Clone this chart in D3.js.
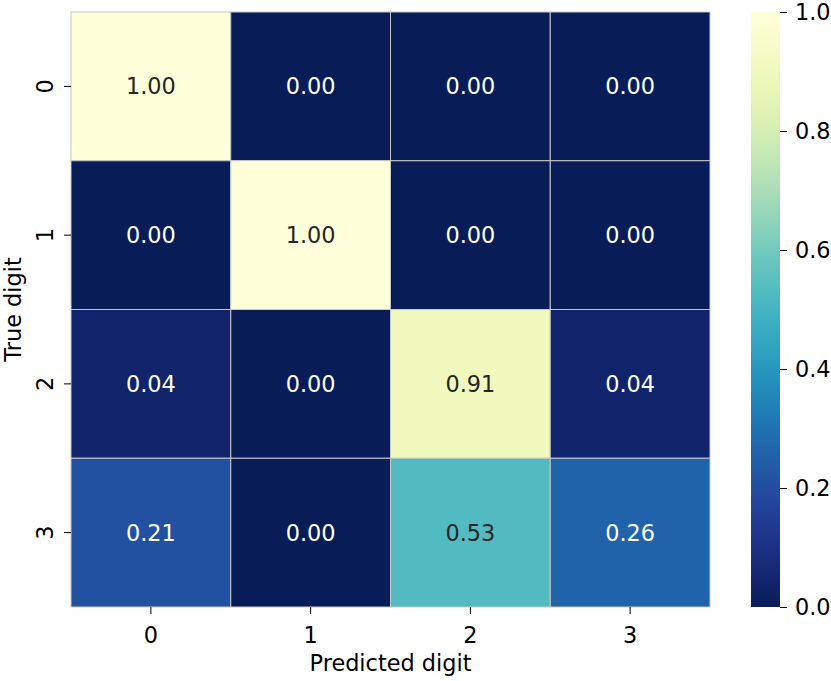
<!DOCTYPE html>
<html>
<head>
<meta charset="utf-8">
<script src="https://cdn.jsdelivr.net/npm/d3@7"></script>
<style>
  body { margin: 0; background: #fff; }
  text { font-family: "DejaVu Sans", sans-serif; }
</style>
</head>
<body>
<div id="chart"></div>
<script>
// confusion matrix data (row = true digit, column = predicted digit)
const trueDigits = ["0", "1", "2", "3"];
const predDigits = ["0", "1", "2", "3"];
const row0 = [1.00, 0.00, 0.00, 0.00];
const row1 = [0.00, 1.00, 0.00, 0.00];
const row2 = [0.04, 0.00, 0.91, 0.04];
const row3 = [0.21, 0.00, 0.53, 0.26];
const rows = [row0, row1, row2, row3];
const colorbarTicks = [0, 0.2, 0.4, 0.6, 0.8, 1.0];

const width = 831;
const height = 681;
const fontSize = 22.4;

// heatmap area
const plotLeft = 71, plotRight = 710, plotTop = 12, plotBottom = 607;
// colorbar area
const cbLeft = 751, cbRight = 780;

const svg = d3.select("#chart")
  .append("svg")
  .attr("width", width)
  .attr("height", height);

const xScale = d3.scaleBand().domain(predDigits).range([plotLeft, plotRight]);
const yScale = d3.scaleBand().domain(trueDigits).range([plotTop, plotBottom]);

// reversed YlGnBu: 0 -> dark blue, 1 -> light yellow
const color = (v) => d3.interpolateYlGnBu(1 - v);

// flatten the rows into cells
let cells = [];
for (let i = 0; i < rows.length; i++) {
  for (let j = 0; j < rows[i].length; j++) {
    cells.push({ row: trueDigits[i], col: predDigits[j], value: rows[i][j] });
  }
}

// relative luminance, same rule as seaborn uses for annotation colour
function luminance(c) {
  const rgb = d3.rgb(c);
  const lin = [rgb.r, rgb.g, rgb.b].map((x) => {
    x = x / 255;
    return x <= 0.03928 ? x / 12.92 : Math.pow((x + 0.055) / 1.055, 2.4);
  });
  return 0.2126 * lin[0] + 0.7152 * lin[1] + 0.0722 * lin[2];
}

svg.append("g")
  .selectAll("rect")
  .data(cells)
  .enter()
  .append("rect")
  .attr("x", (d) => xScale(d.col))
  .attr("y", (d) => yScale(d.row))
  .attr("width", xScale.bandwidth())
  .attr("height", yScale.bandwidth())
  .attr("fill", (d) => color(d.value))
  .attr("stroke", "#c8c8c8")
  .attr("stroke-width", 1);

svg.append("g")
  .selectAll("text")
  .data(cells)
  .enter()
  .append("text")
  .attr("x", (d) => xScale(d.col) + xScale.bandwidth() / 2)
  .attr("y", (d) => yScale(d.row) + yScale.bandwidth() / 2)
  .attr("dy", "0.36em")
  .attr("text-anchor", "middle")
  .style("font-size", fontSize + "px")
  .attr("fill", (d) => (luminance(color(d.value)) > 0.408 ? "#262626" : "#ffffff"))
  .text((d) => d.value.toFixed(2));

// x axis
const xAxis = svg.append("g")
  .attr("transform", `translate(0,${plotBottom})`)
  .call(d3.axisBottom(xScale).tickSize(7).tickPadding(13));
xAxis.select(".domain").remove();
xAxis.selectAll("text").style("font-size", fontSize + "px").attr("fill", "#000");
xAxis.selectAll("line").attr("stroke", "#000");

// y axis with rotated labels
const yAxis = svg.append("g")
  .attr("transform", `translate(${plotLeft},0)`)
  .call(d3.axisLeft(yScale).tickSize(7));
yAxis.select(".domain").remove();
yAxis.selectAll("line").attr("stroke", "#000");
yAxis.selectAll("text")
  .attr("x", 0)
  .attr("y", 0)
  .attr("dy", 0)
  .attr("text-anchor", "middle")
  .attr("transform", "translate(-18,0) rotate(-90)")
  .style("font-size", fontSize + "px")
  .attr("fill", "#000");

// axis titles
svg.append("text")
  .attr("x", (plotLeft + plotRight) / 2)
  .attr("y", 671)
  .attr("text-anchor", "middle")
  .style("font-size", fontSize + "px")
  .text("Predicted digit");

svg.append("text")
  .attr("transform", `translate(20.5,${(plotTop + plotBottom) / 2}) rotate(-90)`)
  .attr("text-anchor", "middle")
  .style("font-size", fontSize + "px")
  .text("True digit");

// colorbar
const cbScale = d3.scaleLinear().domain([0, 1]).range([plotBottom, plotTop]);
const grad = svg.append("defs")
  .append("linearGradient")
  .attr("id", "cbgrad")
  .attr("x1", 0).attr("y1", 1)
  .attr("x2", 0).attr("y2", 0);
d3.range(0, 1.0001, 0.02).forEach((t) => {
  grad.append("stop")
    .attr("offset", t)
    .attr("stop-color", color(t));
});
svg.append("rect")
  .attr("x", cbLeft)
  .attr("y", plotTop)
  .attr("width", cbRight - cbLeft)
  .attr("height", plotBottom - plotTop)
  .attr("fill", "url(#cbgrad)");

const cbAxis = svg.append("g")
  .attr("transform", `translate(${cbRight},0)`)
  .call(d3.axisRight(cbScale).tickValues(colorbarTicks).tickFormat(d3.format(".1f")).tickSize(7).tickPadding(8));
cbAxis.select(".domain").remove();
cbAxis.selectAll("line").attr("stroke", "#000");
cbAxis.selectAll("text").style("font-size", fontSize + "px").attr("fill", "#000");
</script>
</body>
</html>
